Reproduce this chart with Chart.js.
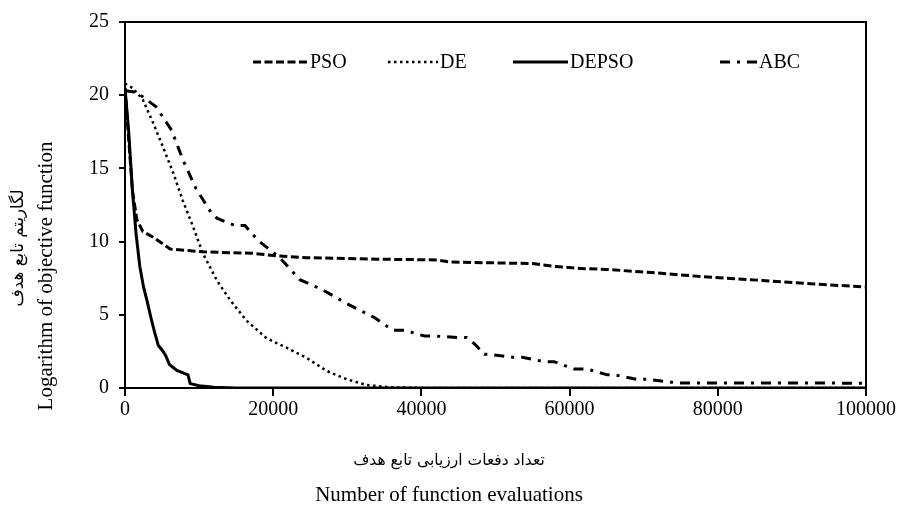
<!DOCTYPE html>
<html>
<head>
<meta charset="utf-8">
<script src="https://cdn.jsdelivr.net/npm/chart.js@4/dist/chart.umd.min.js"></script>
<style>
  body { margin: 0; background: #fff; }
  #wrap { width: 898px; height: 508px; }
</style>
</head>
<body>
<div id="wrap"><canvas id="mainChart" width="898" height="508"></canvas></div>
<script>
// values
var psoX = [0, 500, 1000, 1600, 2400, 3800, 6100, 10500, 17300, 20000, 24500, 34000, 42000, 44000, 55000, 58000, 62000, 65000, 72000, 78000, 86000, 93000, 100000];
var psoY = [20.5, 17, 13.5, 11.5, 10.7, 10.3, 9.5, 9.3, 9.2, 9.05, 8.9, 8.8, 8.75, 8.6, 8.5, 8.3, 8.15, 8.1, 7.85, 7.6, 7.35, 7.1, 6.9];

var deX = [0, 1000, 2400, 3800, 5100, 6500, 7800, 9200, 10500, 12400, 14200, 16400, 19100, 21800, 24500, 27200, 29900, 32600, 36000, 40000, 100000];
var deY = [20.8, 20.5, 19.7, 18.1, 16.5, 14.7, 12.8, 11, 9.2, 7.35, 6, 4.6, 3.4, 2.75, 2.06, 1.17, 0.6, 0.2, 0.05, 0, 0];

var depsoX = [0, 500, 1000, 1500, 2000, 2500, 3000, 3500, 4000, 4500, 5000, 5500, 6000, 6500, 7000, 8000, 8500, 8800, 10000, 12000, 15000, 100000];
var depsoY = [20.5, 17.5, 13.5, 10.5, 8.3, 6.9, 5.9, 4.8, 3.8, 2.9, 2.6, 2.2, 1.6, 1.4, 1.2, 1.0, 0.9, 0.3, 0.15, 0.05, 0, 0];

var abcX = [0, 1600, 4200, 6300, 7800, 9600, 11600, 12400, 14800, 16200, 17900, 20900, 23600, 26700, 29800, 33700, 36100, 37700, 40400, 41800, 44900, 46100, 47200, 48500, 49200, 52300, 53600, 56600, 57900, 60600, 62300, 65100, 66000, 69000, 70400, 73700, 74500, 100000];
var abcY = [20.3, 20.2, 19.2, 17.6, 15.6, 13.6, 12, 11.6, 11.1, 11.1, 10.1, 8.9, 7.4, 6.7, 5.8, 4.8, 3.95, 3.95, 3.55, 3.55, 3.45, 3.45, 3.0, 2.3, 2.3, 2.1, 2.1, 1.8, 1.8, 1.3, 1.3, 0.9, 0.9, 0.6, 0.6, 0.4, 0.35, 0.33];

var seriesNames = ["PSO", "DE", "DEPSO", "ABC"];
var xTicks = [0, 20000, 40000, 60000, 80000, 100000];
var yTicks = [0, 5, 10, 15, 20, 25];

var xTitleFa = "تعداد دفعات ارزیابی تابع هدف";
var xTitleEn = "Number of function evaluations";
var yTitleFa = "لگاریتم تابع هدف";
var yTitleEn = "Logarithm of objective function";

var serif = '"Liberation Serif", "Times New Roman", serif';
var faFont = '"DejaVu Sans", "Noto Sans", sans-serif';

function pts(xs, ys) {
  return xs.map(function (x, i) { return { x: x, y: ys[i] }; });
}

// dash styles for each series
var styles = [
  { dash: [8, 3.5], width: 3 },
  { dash: [2.5, 3.5], width: 2.5 },
  { dash: [], width: 3 },
  { dash: [10, 7, 3, 7], width: 3 }
];

// legend drawn by hand so the spacing matches the picture
var legendSlots = [
  { from: 128, to: 183 },
  { from: 263, to: 313 },
  { from: 388, to: 443 },
  { from: 595, to: 632 }
];

// fit persian text into a given width
function fitFont(ctx, text, width, family) {
  ctx.font = "20px " + family;
  var size = 20 * width / ctx.measureText(text).width;
  ctx.font = size.toFixed(1) + "px " + family;
}

var extras = {
  id: "extras",
  afterDraw: function (chart) {
    var ctx = chart.ctx, a = chart.chartArea;
    ctx.save();
    ctx.strokeStyle = "#000";
    ctx.lineWidth = 2;
    ctx.setLineDash([]);
    ctx.beginPath();
    ctx.moveTo(a.left, a.top);
    ctx.lineTo(a.right, a.top);
    ctx.lineTo(a.right, a.bottom);
    ctx.stroke();

    var ly = a.top + 40;
    ctx.font = "20px " + serif;
    ctx.fillStyle = "#000";
    ctx.textBaseline = "middle";
    ctx.textAlign = "left";
    legendSlots.forEach(function (s, i) {
      ctx.lineWidth = styles[i].width;
      ctx.setLineDash(styles[i].dash);
      ctx.beginPath();
      ctx.moveTo(a.left + s.from, ly);
      ctx.lineTo(a.left + s.to, ly);
      ctx.stroke();
      ctx.setLineDash([]);
      ctx.fillText(seriesNames[i], a.left + s.to + 2, ly + 1);
    });

    // axis titles
    ctx.textAlign = "center";
    var cx = chart.width / 2;
    fitFont(ctx, xTitleFa, 192, faFont);
    ctx.fillText(xTitleFa, cx, 461);
    ctx.font = "21px " + serif;
    ctx.fillText(xTitleEn, cx, 495);

    ctx.save();
    ctx.translate(19, 248);
    ctx.rotate(-Math.PI / 2);
    fitFont(ctx, yTitleFa, 117, faFont);
    ctx.fillText(yTitleFa, 0, 0);
    ctx.restore();

    ctx.save();
    ctx.translate(46, 276);
    ctx.rotate(-Math.PI / 2);
    ctx.font = "21px " + serif;
    ctx.fillText(yTitleEn, 0, 0);
    ctx.restore();

    ctx.restore();
  }
};

var allX = [psoX, deX, depsoX, abcX];
var allY = [psoY, deY, depsoY, abcY];

var ctx = document.getElementById("mainChart").getContext("2d");
var chart = new Chart(ctx, {
  type: "line",
  data: {
    datasets: seriesNames.map(function (name, i) {
      return {
        label: name,
        data: pts(allX[i], allY[i]),
        borderColor: "#000",
        backgroundColor: "#000",
        borderWidth: styles[i].width,
        borderDash: styles[i].dash,
        pointRadius: 0,
        tension: 0,
        fill: false
      };
    })
  },
  options: {
    responsive: false,
    animation: false,
    layout: { padding: { top: 15, right: 1, left: 79, bottom: 84 } },
    plugins: {
      legend: { display: false },
      tooltip: { enabled: false }
    },
    scales: {
      x: {
        type: "linear",
        min: 0,
        max: 100000,
        afterBuildTicks: function (axis) {
          axis.ticks = xTicks.map(function (v) { return { value: v }; });
        },
        ticks: {
          color: "#000",
          font: { family: serif, size: 20 },
          padding: 2,
          maxRotation: 0,
          callback: function (v) { return String(v); }
        },
        grid: { drawOnChartArea: false, drawTicks: true, tickLength: 8, color: "#000", lineWidth: 2 },
        border: { display: true, color: "#000", width: 2 }
      },
      y: {
        min: 0,
        max: 25,
        afterBuildTicks: function (axis) {
          axis.ticks = yTicks.map(function (v) { return { value: v }; });
        },
        ticks: {
          color: "#000",
          font: { family: serif, size: 20 },
          padding: 10,
          callback: function (v) { return String(v); }
        },
        grid: { drawOnChartArea: false, drawTicks: true, tickLength: 6, color: "#000", lineWidth: 2 },
        border: { display: true, color: "#000", width: 2 }
      }
    }
  },
  plugins: [extras]
});
</script>
</body>
</html>
